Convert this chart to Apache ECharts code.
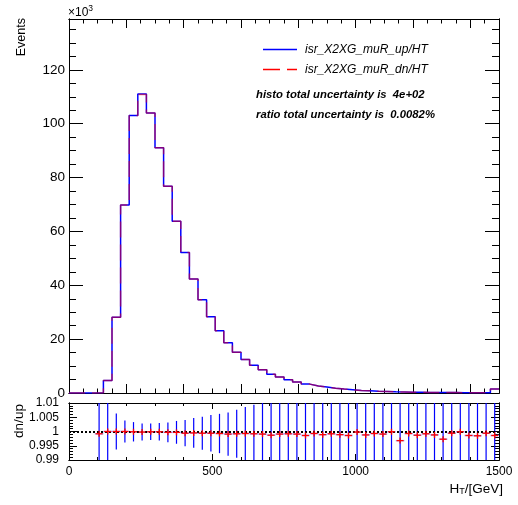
<!DOCTYPE html>
<html><head><meta charset="utf-8">
<script src="https://cdn.jsdelivr.net/npm/echarts@6/dist/echarts.min.js"></script>
<style>html,body{margin:0;padding:0;background:#fff}#c{width:518px;height:505px}</style>
</head><body><div id="c"></div>
<script>
// H_T bin edges (GeV)
const binEdges = [0,30,60,90,120,150,180,210,240,270,300,330,360,390,420,450,480,510,540,570,600,630,660,690,720,750,780,810,840,870,900,930,960,990,1020,1050,1080,1110,1140,1170,1200,1230,1260,1290,1320,1350,1380,1410,1440,1470,1500];
// Events per bin, in units of 10^3
const upValues = [0,0,0,0.05,4.6,28.1,69.8,103.1,111.0,104.0,91.1,76.8,63.8,52.2,42.3,34.6,28.3,23.1,18.7,15.1,12.4,10.3,8.6,7.0,5.9,4.9,4.1,3.3,2.6,2.2,1.75,1.45,1.2,0.95,0.8,0.65,0.55,0.45,0.38,0.32,0.27,0.23,0.2,0.17,0.14,0.12,0.1,0.09,0.08,1.5];
const dnValues = [0,0,0,0.05,4.6,28.1,69.8,103.1,110.9,104.0,91.1,76.8,63.8,52.2,42.3,34.6,28.3,23.1,18.7,15.1,12.4,10.3,8.6,7.0,5.9,4.9,4.1,3.3,2.6,2.2,1.75,1.45,1.2,0.95,0.8,0.65,0.55,0.45,0.38,0.32,0.27,0.23,0.2,0.17,0.14,0.12,0.1,0.09,0.08,1.5];
// ratio panel (dn/up)
const ratioCenters = [105,135,165,195,225,255,285,315,345,375,405,435,465,495,525,555,585,615,645,675,705,735,765,795,825,855,885,915,945,975,1005,1035,1065,1095,1125,1155,1185,1215,1245,1275,1305,1335,1365,1395,1425,1455,1485];
const ratioValues = [0.9992,1.0,1.0,1.0,0.9999,0.9998,0.9999,0.9999,0.9997,0.9997,0.9994,0.9995,0.9994,0.9994,0.9993,0.9991,0.9992,0.9993,0.9992,0.9991,0.9987,0.9991,0.9992,0.9991,0.9986,0.9993,0.9989,0.9992,0.9989,0.9986,0.9998,0.9988,0.9993,0.9991,0.9999,0.9968,0.9993,0.9987,0.9992,0.9988,0.9973,0.9994,0.9999,0.9986,0.9985,0.9994,0.9986];
const ratioErrors = [0.05,0.012,0.0063,0.0039,0.0034,0.0030,0.0029,0.0031,0.0035,0.0040,0.0046,0.0052,0.0058,0.0064,0.0069,0.0076,0.0084,0.0093,0.0102,0.0112,0.0125,0.0137,0.015,0.0165,0.018,0.02,0.022,0.024,0.026,0.029,0.032,0.035,0.038,0.042,0.046,0.05,0.055,0.06,0.065,0.07,0.077,0.085,0.09,0.1,0.11,0.12,0.03];
const binWidth = 30;
const seriesNames = ['isr_X2XG_muR_up/HT','isr_X2XG_muR_dn/HT'];
const statTexts = ['histo total uncertainty is  4e+02','ratio total uncertainty is  0.0082%'];

const FONT = '"Liberation Sans", Arial, Helvetica, sans-serif';
const mainYMax = 138.9;

function stepData(vals){ return binEdges.map((e,i)=>[e, vals[Math.min(i, vals.length-1)]]); }

const mctx = document.createElement('canvas').getContext('2d');
function textW(t, size){ mctx.font = size + 'px ' + FONT; return mctx.measureText(t).width; }
const xTitleRight = 503;
const wUnit = textW('/[GeV]', 13.5);
const wSub = textW('T', 9);

function xAx(grid, pos, interval, len, opts){
  return Object.assign({type:'value', gridIndex:grid, position:pos, min:0, max:1500, interval:interval,
    axisLine:{show:true, onZero:false, lineStyle:{color:'#000', width:1}},
    axisTick:{show:true, inside:true, length:len, lineStyle:{color:'#000', width:1}},
    axisLabel:{show:false}, splitLine:{show:false}, axisPointer:{show:false}}, opts||{});
}
function yAx(grid, pos, min, max, interval, len, opts){
  return Object.assign({type:'value', gridIndex:grid, position:pos, min:min, max:max, interval:interval,
    axisLine:{show:true, onZero:false, lineStyle:{color:'#000', width:1}},
    axisTick:{show:true, inside:true, length:len, lineStyle:{color:'#000', width:1}},
    axisLabel:{show:false}, splitLine:{show:false}, axisPointer:{show:false}}, opts||{});
}

const chart = echarts.init(document.getElementById('c'), null, {renderer:'canvas'});
chart.setOption({
  animation:false,
  backgroundColor:'#fff',
  textStyle:{fontFamily:FONT},
  grid:[
    {left:69, right:19, top:19, bottom:112},
    {left:69, right:19, top:403, bottom:45}
  ],
  xAxis:[
    xAx(0,'bottom',200,9),
    xAx(0,'bottom',50,4.5),
    xAx(0,'top',200,9),
    xAx(0,'top',50,4.5),
    xAx(1,'bottom',500,6,{axisLabel:{show:true, fontSize:12, color:'#000', margin:6, fontFamily:FONT, formatter:v=>String(v)}}),
    xAx(1,'bottom',100,3),
    xAx(1,'top',500,6),
    xAx(1,'top',100,3)
  ],
  yAxis:[
    yAx(0,'left',0,mainYMax,20,14,{axisLabel:{show:true, fontSize:13.5, color:'#000', margin:4, showMaxLabel:false, fontFamily:FONT, formatter:v=>String(v)}}),
    yAx(0,'left',0,mainYMax,5,7),
    yAx(0,'right',0,mainYMax,20,14),
    yAx(0,'right',0,mainYMax,5,7),
    yAx(1,'left',0.99,1.01,0.005,8,{axisLabel:{show:true, fontSize:12, color:'#000', margin:10, fontFamily:FONT, formatter:v=>String(+v.toFixed(3))}}),
    yAx(1,'left',0.99,1.01,0.001,4),
    yAx(1,'right',0.99,1.01,0.005,8),
    yAx(1,'right',0.99,1.01,0.001,4)
  ],
  series:[
    {name:seriesNames[0], type:'line', xAxisIndex:0, yAxisIndex:0, step:'end', symbol:'none',
     data:stepData(upValues), lineStyle:{color:'#0000ff', width:1.5}, itemStyle:{color:'#0000ff'}, clip:true, z:2},
    {name:seriesNames[1], type:'line', xAxisIndex:0, yAxisIndex:0, step:'end', symbol:'none',
     data:stepData(dnValues), lineStyle:{color:'#ff0000', width:1.5, type:[16,7], opacity:0.5}, itemStyle:{color:'#ff0000'}, clip:true, z:3},
    {type:'custom', name:'ratioErr', xAxisIndex:4, yAxisIndex:4, z:2,
     data:ratioCenters.map((c,i)=>[c, ratioValues[i], ratioErrors[i]]),
     renderItem:function(params, api){
       const x=api.value(0), r=api.value(1), e=api.value(2);
       const hi=Math.min(r+e,1.01), lo=Math.max(r-e,0.99);
       const p1=api.coord([x,hi]), p2=api.coord([x,lo]);
       const hw=api.size([binWidth,0])[0]/2;
       const pc=api.coord([x,r]);
       return {type:'group', children:[
         {type:'line', shape:{x1:p1[0], y1:p1[1], x2:p2[0], y2:p2[1]}, style:{stroke:'#0000ff', lineWidth:1.2}},
         {type:'line', shape:{x1:pc[0]-hw, y1:pc[1], x2:pc[0]+hw, y2:pc[1]}, style:{stroke:'#8080ff', lineWidth:1.5, opacity:0.7}}
       ]};
     },
     markLine:{silent:true, symbol:['none','none'], label:{show:false}, z:3,
       lineStyle:{color:'#000', type:[2,2], width:2}, data:[{yAxis:1}]}
    },
    {type:'custom', name:'ratioPts', xAxisIndex:4, yAxisIndex:4, z:4,
     data:ratioCenters.map((c,i)=>[c, ratioValues[i]]),
     renderItem:function(params, api){
       const pc=api.coord([api.value(0), api.value(1)]);
       return {type:'group', children:[
         {type:'line', shape:{x1:pc[0]-3.5, y1:pc[1], x2:pc[0]+3.5, y2:pc[1]}, style:{stroke:'#ff0000', lineWidth:1.3}},
         {type:'line', shape:{x1:pc[0], y1:pc[1]-3, x2:pc[0], y2:pc[1]+3}, style:{stroke:'#ff0000', lineWidth:1.3}}
       ]};
     }
    }
  ],
  graphic:[
    // legend
    {type:'line', shape:{x1:263, y1:49.5, x2:297, y2:49.5}, style:{stroke:'#0000ff', lineWidth:1.5}},
    {type:'line', shape:{x1:263, y1:69.5, x2:297, y2:69.5}, style:{stroke:'#ff0000', lineWidth:1.5, lineDash:[17,7]}},
    {type:'text', x:305, y:49.5, style:{text:seriesNames[0], fontSize:12, fontStyle:'italic', fontFamily:FONT, fill:'#000', verticalAlign:'middle'}},
    {type:'text', x:305, y:69.5, style:{text:seriesNames[1], fontSize:12, fontStyle:'italic', fontFamily:FONT, fill:'#000', verticalAlign:'middle'}},
    // titles
    {type:'text', x:22, y:18, rotation:Math.PI/2, style:{text:'Events', fontSize:12.5, fontFamily:FONT, fill:'#000', align:'right', verticalAlign:'middle'}},
    {type:'text', x:68, y:13, style:{text:'{a|×10}{b|3}', fontFamily:FONT, fill:'#000', verticalAlign:'middle',
      rich:{a:{fontSize:12, fontFamily:FONT, fill:'#000'}, b:{fontSize:8.5, fontFamily:FONT, fill:'#000', verticalAlign:'top', padding:[0,0,8,0]}}}},
    {type:'text', x:19.5, y:421, rotation:Math.PI/2, style:{text:'dn/up', fontSize:13.5, fontFamily:FONT, fill:'#000', align:'center', verticalAlign:'middle'}},
    {type:'text', x:xTitleRight, y:489, style:{text:'/[GeV]', fontSize:13.5, fontFamily:FONT, fill:'#000', align:'right', verticalAlign:'middle'}},
    {type:'text', x:xTitleRight - wUnit, y:492, style:{text:'T', fontSize:9, fontFamily:FONT, fill:'#000', align:'right', verticalAlign:'middle'}},
    {type:'text', x:xTitleRight - wUnit - wSub, y:489, style:{text:'H', fontSize:13.5, fontFamily:FONT, fill:'#000', align:'right', verticalAlign:'middle'}},
    // stats
    {type:'text', x:256, y:95, style:{text:statTexts[0], fontSize:11.3, fontStyle:'italic', fontWeight:'bold', fontFamily:FONT, fill:'#000', verticalAlign:'middle'}},
    {type:'text', x:256, y:115, style:{text:statTexts[1], fontSize:11.3, fontStyle:'italic', fontWeight:'bold', fontFamily:FONT, fill:'#000', verticalAlign:'middle'}}
  ]
});
</script></body></html>
